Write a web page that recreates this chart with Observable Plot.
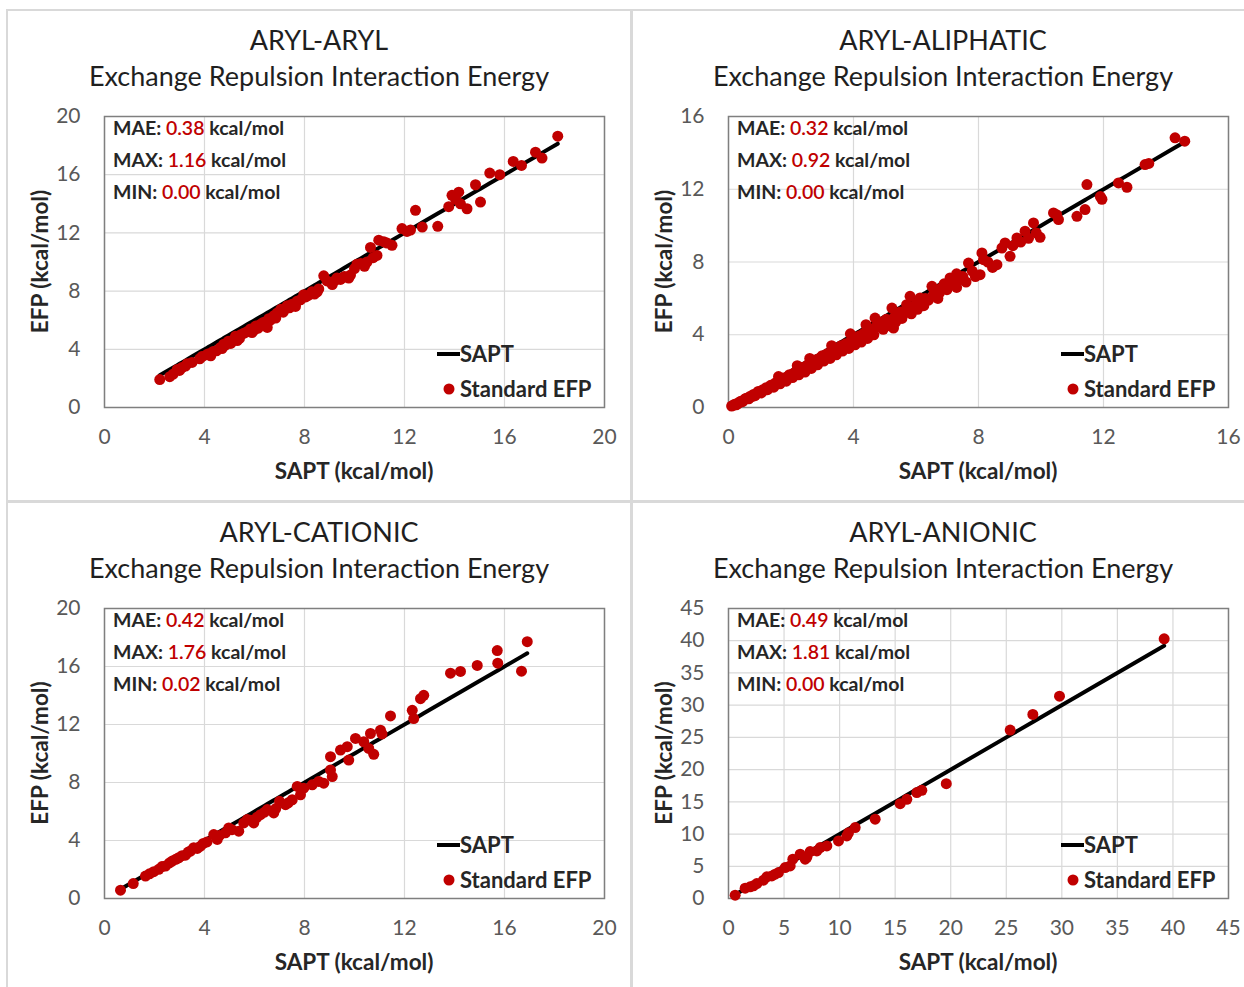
<!DOCTYPE html>
<html>
<head>
<meta charset="utf-8">
<script src="https://cdn.jsdelivr.net/npm/d3@7"></script>
<script src="https://cdn.jsdelivr.net/npm/@observablehq/plot@0.6"></script>
<style>
  html, body { margin: 0; padding: 0; background: #fff; }
  #page { position: relative; width: 1244px; height: 987px; overflow: hidden; font-family: Lato, "Open Sans", sans-serif; }
  .panel { position: absolute; box-sizing: border-box; border: 2px solid #d9d9d9; }
  .title { position: absolute; text-align: center; font-size: 27px; line-height: 36px; color: #1f1f1f; white-space: nowrap; }
  .chart { position: absolute; }
  .chart svg { overflow: visible; }
</style>
</head>
<body>
<div id="page"></div>
<script>
// ---- data: SAPT reference vs. standard EFP exchange-repulsion energies (kcal/mol) ----
const panelNames = ["ARYL-ARYL", "ARYL-ALIPHATIC", "ARYL-CATIONIC", "ARYL-ANIONIC"];
const subtitle = "Exchange Repulsion Interaction Energy";
const xLabel = "SAPT (kcal/mol)";
const yLabel = "EFP (kcal/mol)";
const statLabels = ["MAE:", "MAX:", "MIN:"];
const statUnit = "kcal/mol";
const seriesNames = ["SAPT", "Standard EFP"];

const arylArylStats = ["0.38", "1.16", "0.00"];
const arylAliphaticStats = ["0.32", "0.92", "0.00"];
const arylCationicStats = ["0.42", "1.76", "0.02"];
const arylAnionicStats = ["0.49", "1.81", "0.00"];

const ticks20 = [0, 4, 8, 12, 16, 20];
const ticks16 = [0, 4, 8, 12, 16];
const ticks45 = [0, 5, 10, 15, 20, 25, 30, 35, 40, 45];

const arylArylSapt = [2.21, 2.61, 2.75, 2.91, 3.1, 3.24, 3.3, 3.81, 3.9, 4.08, 4.17, 4.35, 4.48, 4.62, 4.77, 4.84, 4.95, 5.1, 5.24, 5.31, 5.45, 5.57, 5.7, 5.84, 5.97, 6.05, 6.24, 6.35, 6.51, 6.57, 6.64, 6.77, 6.91, 7.05, 7.24, 7.31, 7.5, 7.64, 7.84, 7.97, 8.05, 8.3, 8.51, 8.57, 8.77, 8.9, 9.11, 9.3, 9.44, 9.6, 9.77, 9.84, 10.1, 10.25, 10.4, 10.5, 10.64, 10.75, 10.9, 10.97, 11.17, 11.3, 11.5, 11.9, 12.1, 12.24, 12.44, 12.71, 13.33, 13.77, 13.9, 14.05, 14.17, 14.24, 14.5, 14.84, 15.04, 15.41, 15.81, 16.35, 16.68, 17.24, 17.5, 18.13,
  4.25, 4.7, 5.05, 5.4, 5.9, 6.15, 6.45, 6.85, 7.15, 7.4, 7.7, 8.15, 8.4, 9.2, 9.55, 10.0, 3.5, 3.0];
const arylArylEfp = [1.92, 2.12, 2.3, 2.62, 2.75, 2.85, 3.0, 3.35, 3.5, 3.62, 3.7, 3.85, 3.9, 4.1, 4.35, 4.28, 4.55, 4.6, 4.9, 4.6, 5.0, 5.1, 5.2, 5.4, 5.3, 5.6, 5.72, 5.85, 5.5, 6.1, 6.0, 6.3, 6.5, 6.75, 6.8, 7.0, 7.1, 6.95, 7.4, 7.75, 7.6, 7.95, 7.95, 8.15, 9.05, 8.7, 8.45, 8.9, 8.8, 9.0, 8.9, 9.1, 9.85, 9.9, 9.7, 10.0, 11.0, 10.3, 10.45, 11.5, 11.4, 11.3, 11.15, 12.3, 12.1, 12.2, 13.55, 12.4, 12.45, 13.8, 14.58, 14.3, 14.8, 14.0, 13.66, 15.31, 14.12, 16.11, 16.0, 16.91, 16.64, 17.55, 17.14, 18.65,
  3.55, 4.05, 4.4, 4.75, 5.15, 5.45, 5.8, 6.15, 6.55, 6.85, 7.3, 7.7, 7.8, 8.7, 8.95, 9.55, 3.1, 2.55];

const arylAliphaticSapt = [0.1, 0.15, 0.2, 0.3, 0.35, 0.4, 0.5, 0.55, 0.6, 0.7, 0.75, 0.8, 0.9, 0.95, 1.0, 1.1, 1.15, 1.2, 1.3, 1.35, 1.4, 1.5, 1.55, 1.6, 1.7, 1.75, 1.8, 1.9, 1.95, 2.0, 2.1, 2.15, 2.2, 2.3, 2.35, 2.4, 2.5, 2.55, 2.6, 2.7, 2.75, 2.8, 2.9, 2.95, 3.0, 3.1, 3.15, 3.2, 3.3, 3.35, 3.4, 3.5, 3.55, 3.6, 3.7, 3.75, 3.8, 3.9, 3.95, 4.0, 4.1, 4.15, 4.2, 4.21, 4.3, 4.35, 4.43, 4.5, 4.55, 4.6, 4.69, 4.7, 4.8, 4.85, 4.9, 5.0, 5.05, 5.1, 5.23, 5.28, 5.3, 5.4, 5.45, 5.5, 5.6, 5.7, 5.75, 5.81, 5.9, 6.0, 6.13, 6.2, 6.3, 6.4, 6.51, 6.56, 6.6, 6.75, 6.8, 6.99, 7.09, 7.2, 7.3, 7.41, 7.5, 7.68, 7.8, 7.9, 8.05, 8.11, 8.16, 8.3, 8.45, 8.59, 8.75, 8.85, 9.01, 9.1, 9.23, 9.35, 9.49, 9.6, 9.76, 9.85, 9.97, 10.4, 10.5, 10.56, 11.15, 11.41, 11.47, 11.9, 11.95, 12.48, 12.75, 13.33, 13.45, 14.29, 14.6,
  0.25, 0.45, 0.65, 0.85, 1.05, 1.25, 1.45, 1.65, 1.85, 2.05, 2.25, 2.45, 2.65, 2.85, 3.05, 3.25, 3.45, 3.65, 3.85, 4.05, 4.25, 4.45, 4.65, 4.95, 5.15, 5.35, 5.55, 5.85, 6.05, 6.25, 2.6, 3.3, 3.9, 4.4, 1.6, 2.2, 6.7, 6.9, 7.3, 7.6];
const arylAliphaticEfp = [0.08, 0.12, 0.18, 0.22, 0.3, 0.35, 0.42, 0.5, 0.52, 0.62, 0.6, 0.72, 0.78, 0.88, 0.86, 0.98, 0.95, 1.08, 1.12, 1.22, 1.2, 1.35, 1.3, 1.45, 1.5, 1.62, 1.55, 1.7, 1.8, 1.78, 1.9, 1.85, 2.05, 2.08, 2.2, 2.1, 2.3, 2.25, 2.45, 2.5, 2.4, 2.62, 2.7, 2.6, 2.85, 2.8, 2.95, 2.9, 3.05, 3.15, 3.0, 3.25, 3.2, 3.4, 3.35, 3.5, 3.45, 3.6, 3.7, 3.55, 3.85, 3.75, 3.95, 3.82, 4.0, 4.1, 4.18, 4.05, 4.3, 4.25, 4.92, 4.4, 4.55, 4.46, 4.7, 4.65, 4.85, 4.75, 5.47, 4.37, 4.95, 5.1, 5.0, 5.25, 5.15, 5.65, 5.4, 6.11, 5.5, 5.7, 6.02, 5.8, 6.0, 5.9, 6.66, 6.2, 6.4, 6.3, 6.55, 6.48, 7.12, 6.8, 6.6, 7.03, 7.2, 7.94, 7.5, 7.2, 7.3, 8.5, 8.13, 8.0, 7.7, 7.85, 8.77, 9.05, 8.31, 8.9, 9.32, 9.1, 9.69, 9.3, 10.15, 9.6, 9.36, 10.7, 10.6, 10.33, 10.51, 10.88, 12.26, 11.6, 11.45, 12.35, 12.11, 13.36, 13.42, 14.83, 14.64,
  0.15, 0.32, 0.48, 0.65, 0.8, 0.98, 1.12, 1.3, 1.45, 1.65, 1.8, 1.95, 2.15, 2.35, 2.55, 2.7, 2.9, 3.1, 3.25, 3.45, 3.6, 3.8, 4.0, 4.3, 4.5, 4.7, 4.9, 5.15, 5.4, 5.6, 2.7, 3.4, 4.05, 4.55, 1.7, 2.3, 6.0, 6.8, 7.35, 6.9];

const arylCationicSapt = [0.64, 1.15, 1.64, 1.8, 1.97, 2.17, 2.3, 2.44, 2.6, 2.71, 2.85, 2.97, 3.1, 3.24, 3.35, 3.44, 3.57, 3.71, 3.84, 3.95, 4.1, 4.37, 4.51, 4.6, 4.84, 4.97, 5.1, 5.37, 5.57, 5.71, 5.85, 5.97, 6.1, 6.24, 6.4, 6.51, 6.77, 6.85, 7.0, 7.24, 7.35, 7.51, 7.71, 7.84, 7.97, 8.31, 8.57, 8.77, 9.04, 9.11, 9.04, 9.44, 9.71, 9.77, 10.04, 10.37, 10.64, 10.57, 10.77, 11.04, 11.1, 11.44, 12.31, 12.37, 12.64, 12.77, 13.84, 14.24, 14.91, 15.71, 15.73, 16.68, 16.91];
const arylCationicEfp = [0.57, 1.03, 1.55, 1.7, 1.85, 2.01, 2.2, 2.24, 2.45, 2.58, 2.7, 2.81, 2.95, 2.99, 3.2, 3.27, 3.5, 3.45, 3.61, 3.8, 3.9, 4.41, 4.07, 4.35, 4.53, 4.87, 4.75, 4.64, 5.21, 5.44, 5.4, 5.21, 5.6, 5.78, 5.95, 6.13, 5.9, 6.2, 6.7, 6.47, 6.6, 6.81, 7.73, 7.15, 7.61, 7.84, 8.07, 7.95, 8.87, 8.41, 9.78, 10.24, 10.47, 9.55, 11.04, 10.81, 11.38, 10.35, 9.94, 11.61, 11.35, 12.59, 12.98, 12.41, 13.78, 14.01, 15.54, 15.66, 16.07, 17.1, 16.23, 15.68, 17.71];

const arylAnionicSapt = [0.6, 1.5, 1.95, 2.25, 2.55, 3.15, 3.45, 3.9, 4.2, 4.5, 5.1, 5.55, 5.79, 6.45, 6.9, 7.05, 7.35, 7.95, 8.25, 8.85, 9.9, 10.65, 10.8, 11.4, 13.2, 15.45, 16.05, 16.95, 17.4, 19.6, 25.35, 27.39, 29.79, 39.21];
const arylAnionicEfp = [0.52, 1.6, 1.81, 1.96, 2.32, 2.84, 3.36, 3.51, 3.77, 4.03, 4.8, 5.06, 6.1, 6.87, 6.1, 6.4, 7.28, 7.39, 7.9, 8.16, 8.94, 9.71, 10.2, 11.0, 12.3, 14.72, 15.39, 16.43, 16.79, 17.82, 26.14, 28.56, 31.4, 40.29];

// ---- layout of the four panels on the page ----
const panels = [
  { name: panelNames[0], sapt: arylArylSapt, efp: arylArylEfp, stats: arylArylStats, ticks: ticks20,
    box: [6, 9, 626, 493], titleX: 319, titleTop: 22,
    svg: { left: 0, top: 100, width: 630, height: 400, ml: 104, mr: 26, mt: 16, mb: 93 } },
  { name: panelNames[1], sapt: arylAliphaticSapt, efp: arylAliphaticEfp, stats: arylAliphaticStats, ticks: ticks16,
    box: [631, 9, 640, 493], titleX: 943, titleTop: 22,
    svg: { left: 630, top: 100, width: 614, height: 400, ml: 98, mr: 16, mt: 16, mb: 93 } },
  { name: panelNames[2], sapt: arylCationicSapt, efp: arylCationicEfp, stats: arylCationicStats, ticks: ticks20,
    box: [6, 501, 626, 500], titleX: 319, titleTop: 514,
    svg: { left: 0, top: 592, width: 630, height: 395, ml: 104, mr: 26, mt: 16, mb: 89 } },
  { name: panelNames[3], sapt: arylAnionicSapt, efp: arylAnionicEfp, stats: arylAnionicStats, ticks: ticks45,
    box: [631, 501, 640, 500], titleX: 943, titleTop: 514,
    svg: { left: 630, top: 592, width: 614, height: 395, ml: 98, mr: 16, mt: 16, mb: 89 } }
];

const page = d3.select("#page");
const red = "#c00000";
const dark = "#262626";
const font = "Lato, 'Open Sans', sans-serif";

for (const p of panels) {
  page.append("div").attr("class", "panel")
    .style("left", p.box[0] + "px").style("top", p.box[1] + "px")
    .style("width", p.box[2] + "px").style("height", p.box[3] + "px");

  const t = page.append("div").attr("class", "title")
    .style("left", (p.titleX - 300) + "px").style("width", "600px")
    .style("top", p.titleTop + "px");
  t.append("div").text(p.name);
  t.append("div").text(subtitle);

  const pts = p.sapt.map((s, i) => ({ sapt: s, efp: p.efp[i] }));
  const ref = [...p.sapt].sort(d3.ascending).map(s => ({ sapt: s }));
  const s = p.svg;
  const dom = [p.ticks[0], p.ticks[p.ticks.length - 1]];

  const chart = Plot.plot({
    width: s.width, height: s.height,
    marginLeft: s.ml, marginRight: s.mr, marginTop: s.mt, marginBottom: s.mb,
    style: { fontFamily: font, fontSize: "21px", color: "#595959", background: "transparent", overflow: "visible" },
    x: { domain: dom },
    y: { domain: dom },
    marks: [
      Plot.gridX(p.ticks, { stroke: "#d9d9d9", strokeOpacity: 1, strokeWidth: 1.2 }),
      Plot.gridY(p.ticks, { stroke: "#d9d9d9", strokeOpacity: 1, strokeWidth: 1.2 }),
      Plot.frame({ stroke: "#7f7f7f", strokeWidth: 1.5 }),
      Plot.line(ref, { x: "sapt", y: "sapt", stroke: "#000", strokeWidth: 4 }),
      Plot.dot(pts, { x: "sapt", y: "efp", r: 5.5, fill: red }),
      Plot.axisX(p.ticks, { tickSize: 0, tickPadding: 22, label: null, fill: "#595959" }),
      Plot.axisY(p.ticks, { tickSize: 0, tickPadding: 24, label: null, fill: "#595959" })
    ]
  });

  page.append("div").attr("class", "chart")
    .style("left", s.left + "px").style("top", s.top + "px")
    .node().appendChild(chart);

  const svg = d3.select(chart);
  const left = s.ml, right = s.width - s.mr, top = s.mt, bottom = s.height - s.mb;

  // axis titles
  const titles = svg.append("g").attr("font-family", font).attr("font-size", 22.5)
    .attr("font-weight", "bold").attr("fill", dark).attr("text-anchor", "middle");
  titles.append("text")
    .attr("x", (left + right) / 2).attr("y", bottom + 64).attr("dy", "0.35em").text(xLabel);
  titles.append("text")
    .attr("transform", `translate(${left - 64},${(top + bottom) / 2}) rotate(-90)`)
    .attr("dy", "0.35em").text(yLabel);

  // error statistics, top-left inside the frame
  const stats = svg.append("g").attr("font-family", font).attr("font-size", 19.5).attr("text-anchor", "start");
  p.stats.forEach((v, i) => {
    const line = stats.append("text")
      .attr("x", left + 9).attr("y", top + 12 + i * 32.3)
      .attr("dy", "0.35em").attr("fill", dark);
    line.append("tspan").attr("font-weight", "bold").text(statLabels[i] + " ");
    line.append("tspan").attr("fill", red).attr("font-weight", 600).text(v);
    line.append("tspan").attr("font-weight", "bold").text(" " + statUnit);
  });

  // legend, bottom-right inside the frame
  const lg = svg.append("g").attr("font-family", font).attr("font-size", 22)
    .attr("font-weight", "bold").attr("fill", dark).attr("text-anchor", "start");
  lg.append("line")
    .attr("x1", right - 167).attr("x2", right - 144)
    .attr("y1", bottom - 53).attr("y2", bottom - 53)
    .attr("stroke", "#000").attr("stroke-width", 4);
  lg.append("text").attr("x", right - 144).attr("y", bottom - 53).attr("dy", "0.35em").text(seriesNames[0]);
  lg.append("circle").attr("cx", right - 155).attr("cy", bottom - 18).attr("r", 5.5).attr("fill", red);
  lg.append("text").attr("x", right - 144).attr("y", bottom - 18).attr("dy", "0.35em").text(seriesNames[1]);
}
</script>
</body>
</html>
